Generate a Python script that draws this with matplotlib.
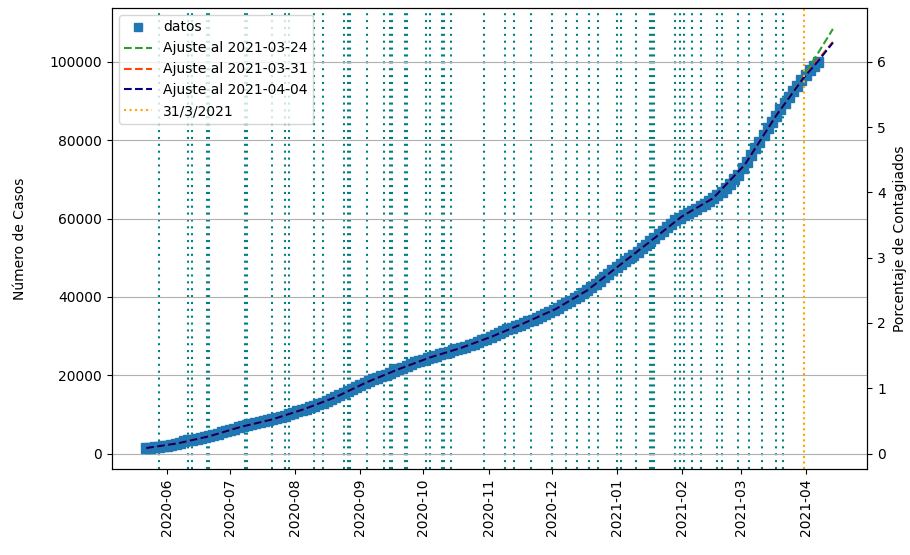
import numpy as np
import pandas as pd
import matplotlib
matplotlib.use("Agg")
import matplotlib.pyplot as plt

# casos acumulados, cada 2 dias desde 2020-05-22
casos = [1400, 1500, 1620, 1750, 1880,
         2000, 2230, 2500, 2780, 3100,
         3400, 3560, 3750, 3950, 4170,
         4400, 4700, 5050, 5400, 5700,
         6000, 6330, 6650, 6950, 7250,
         7500, 7740, 7980, 8230, 8470,
         8700, 9050, 9380, 9700, 10050, 10400,
         10750, 11120, 11480, 11840, 12200,
         12550, 12950, 13400, 13850, 14350,
         14850, 15400, 15950, 16500, 17000,
         17400, 17900, 18450, 18900, 19350,
         19700, 20150, 20600, 21050, 21500,
         21900, 22350, 22800, 23250, 23650,
         24000, 24300, 24650, 24950, 25300,
         25600, 25950, 26300, 26650, 26980,
         27300, 27650, 28050, 28450, 28900, 29300,
         29700, 30200, 30700, 31250, 31750,
         32150, 32550, 32900, 33300, 33750,
         34200, 34650, 35150, 35650, 36150,
         36650, 37200, 37800, 38350, 38950,
         39600, 40300, 40950, 41650, 42400,
         43250, 44100, 44950, 45850, 46800,
         47600, 48300, 49100, 49900, 50700,
         51500, 52350, 53250, 54150, 55050,
         56000, 56900, 57800, 58700, 59500, 60200,
         60800, 61350, 61900, 62500, 63100,
         63800, 64500, 65200, 65900, 66700,
         67700, 68800, 70000, 71200,
         72900, 74500, 76200, 77900, 79600,
         81300, 83000, 84700, 86300, 87900,
         89500, 91000, 92500, 93900, 95300,
         96600, 97800, 98900, 99900]
fechas = pd.date_range("2020-05-22", periods=len(casos), freq="2D")

# curvas de ajuste
fit_fechas = pd.to_datetime(["2020-05-22", "2020-06-06", "2020-06-21", "2020-07-06", "2020-07-21",
                             "2020-08-05", "2020-08-20", "2020-09-04", "2020-09-19", "2020-10-04",
                             "2020-10-19", "2020-11-03", "2020-11-18", "2020-12-03", "2020-12-18",
                             "2021-01-02", "2021-01-17", "2021-02-01", "2021-02-16", "2021-03-03",
                             "2021-03-18", "2021-03-31", "2021-04-07", "2021-04-14"])
base = [1400, 2600, 4400, 6800, 8700, 11300, 14350, 18200, 21500, 24500,
        26980, 29950, 33300, 36900, 41650, 47900, 54150, 60500, 65200, 73700, 86300]
fit_0324 = base + [96300, 102300, 108400]
fit_0331 = base + [96000, 100600, 105100]
fit_0404 = base + [95900, 100200, 104900]

# fechas marcadas con lineas verticales
marcas = ["2020-05-28", "2020-06-11", "2020-06-13", "2020-06-20", "2020-06-21",
          "2020-07-08", "2020-07-09", "2020-07-21", "2020-07-27", "2020-07-29",
          "2020-08-10", "2020-08-14", "2020-08-24", "2020-08-26", "2020-08-27",
          "2020-09-04", "2020-09-12", "2020-09-15", "2020-09-16", "2020-09-22",
          "2020-09-23", "2020-10-02", "2020-10-04", "2020-10-10", "2020-10-11",
          "2020-10-14", "2020-10-30", "2020-11-09", "2020-11-13", "2020-11-21",
          "2020-12-01", "2020-12-08", "2020-12-13", "2020-12-19", "2020-12-23",
          "2021-01-01", "2021-01-03", "2021-01-10", "2021-01-17", "2021-01-18",
          "2021-01-19", "2021-01-29", "2021-01-31", "2021-02-02", "2021-02-06",
          "2021-02-10", "2021-02-18", "2021-02-20", "2021-02-28", "2021-03-05",
          "2021-03-11", "2021-03-18", "2021-03-21"]
fecha_corte = "2021-03-31"
poblacion = 1666667

fig = plt.figure(figsize=(9.1, 5.55), dpi=100)
ax = fig.add_axes([0.123, 0.155, 0.83, 0.8306])

for m in marcas:
    ax.axvline(pd.Timestamp(m), color="teal", linestyle=(0, (1, 2.3)), linewidth=1.5, zorder=1)

ax.plot(fechas, casos, "s", color="tab:blue", markersize=6.5, label="datos", zorder=2)
ax.plot(fit_fechas, fit_0324, "--", color="tab:green", label="Ajuste al 2021-03-24", zorder=3)
ax.plot(fit_fechas, fit_0331, "--", color="orangered", label="Ajuste al 2021-03-31", zorder=3)
ax.plot(fit_fechas, fit_0404, "--", color="navy", label="Ajuste al 2021-04-04", zorder=3)
ax.axvline(pd.Timestamp(fecha_corte), color="orange", linestyle=":", linewidth=1.5,
           label="31/3/2021", zorder=3)

ax.grid(axis="y")
ax.set_ylabel("Número de Casos", labelpad=16)
ax.legend(loc="upper left", markerscale=0.8)
plt.setp(ax.get_xticklabels(), rotation=90)

ax2 = ax.twinx()
lo, hi = ax.get_ylim()
ax2.set_ylim(lo * 100 / poblacion, hi * 100 / poblacion)
ax2.set_ylabel("Porcentaje de Contagiados", labelpad=5)

fig.savefig("out.png", dpi=100)
